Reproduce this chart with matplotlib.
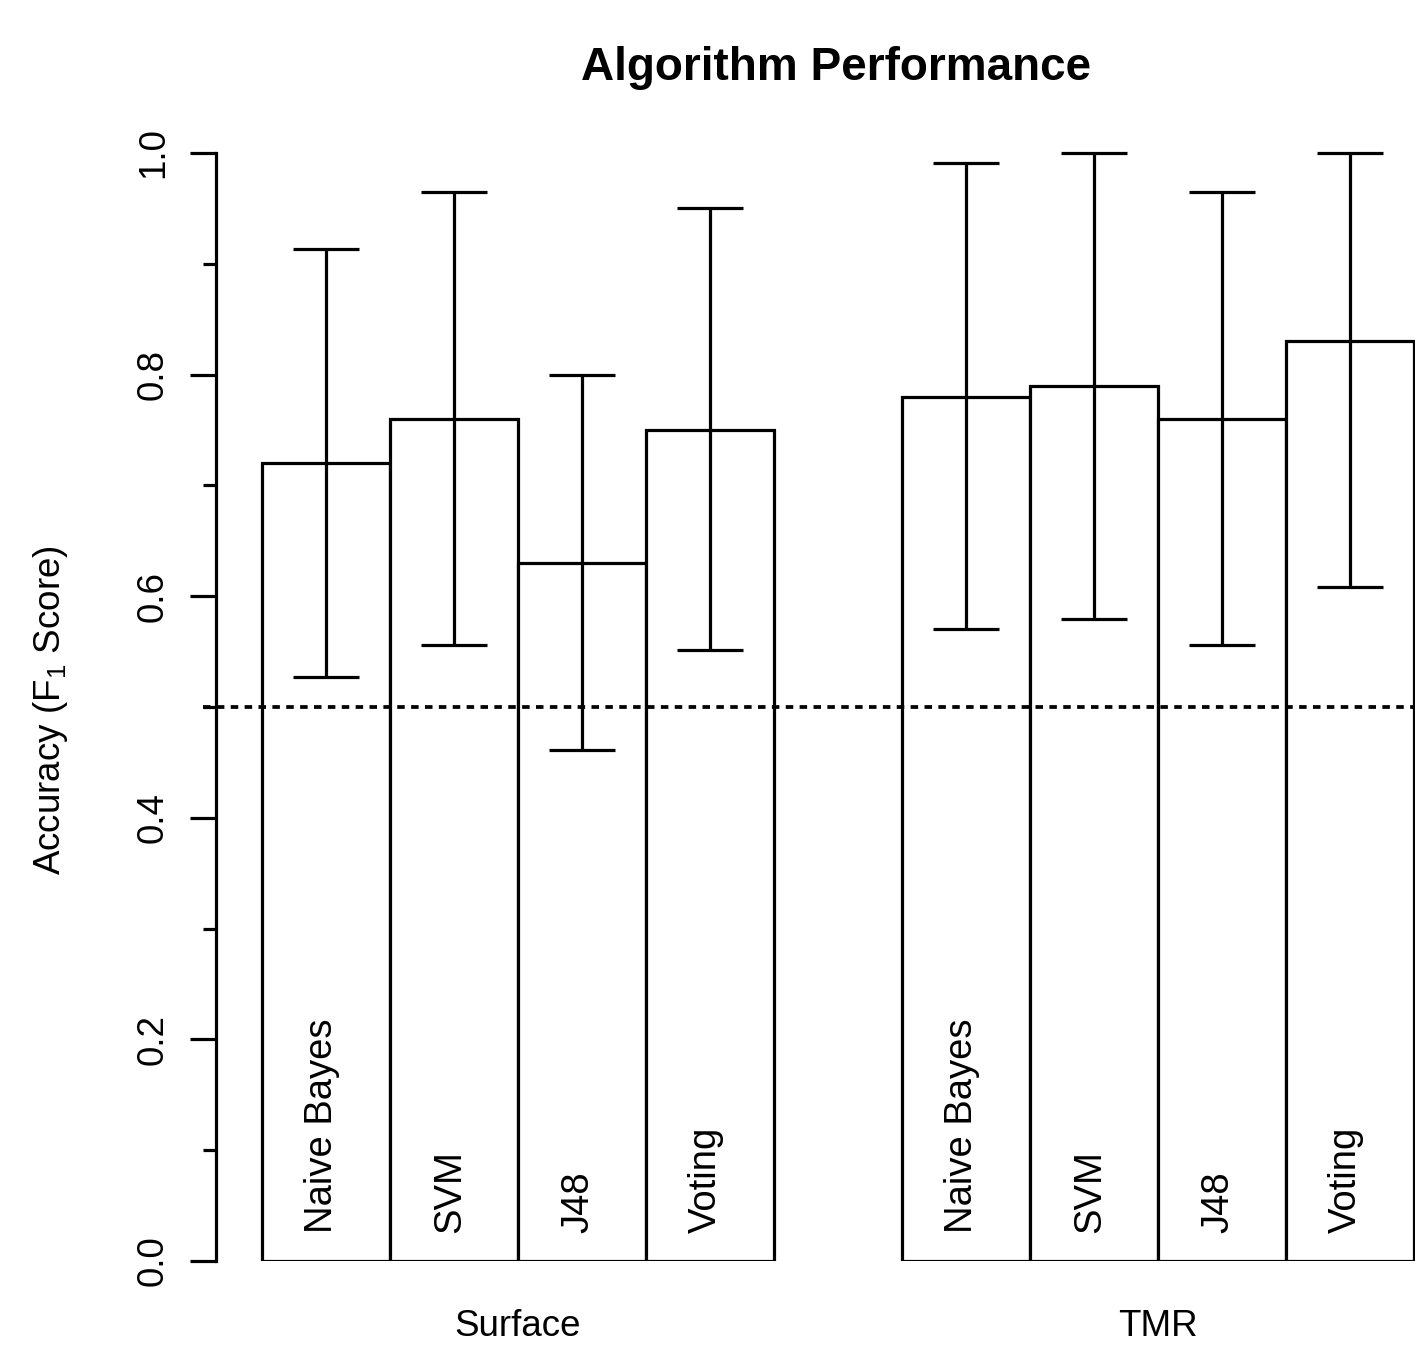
import matplotlib
matplotlib.use("Agg")
import matplotlib.pyplot as plt
import numpy as np

# data
groups = ["Surface", "TMR"]
algorithms = ["Naive Bayes", "SVM", "J48", "Voting"]
surface_f1 = [0.72, 0.76, 0.63, 0.75]
tmr_f1 = [0.78, 0.79, 0.76, 0.83]
surface_lo = [0.527, 0.556, 0.461, 0.551]
surface_hi = [0.913, 0.965, 0.800, 0.950]
tmr_lo = [0.570, 0.579, 0.556, 0.608]
tmr_hi = [0.991, 1.000, 0.965, 1.000]
chance = 0.5

plt.rcParams["font.family"] = ["Liberation Sans", "DejaVu Sans"]
plt.rcParams["mathtext.default"] = "regular"

W, H = 1415, 1345
fig = plt.figure(figsize=(W / 100, H / 100), dpi=100)
# R barplot style region: x from 0.64 to 10.36, runs past the right edge
ax = fig.add_axes([216 / W, (H - 1261) / H, (1460 - 216) / W, (1261 - 153) / H])
ax.set_xlim(0.64, 10.36)
ax.set_ylim(0, 1)

lw = 2.3
heights = np.array(surface_f1 + tmr_f1)
lo = np.array(surface_lo + tmr_lo)
hi = np.array(surface_hi + tmr_hi)
n = len(algorithms)
# bars of width 1, one empty slot before each group
left = np.concatenate([1 + g * (n + 1) + np.arange(n) for g in range(len(groups))])
centers = left + 0.5

ax.bar(left, heights, width=1.0, align="edge", color="white",
       edgecolor="black", linewidth=lw, zorder=2)

ax.axhline(chance, xmin=(203 - 216) / 1244, xmax=1, color="black", lw=2.7,
           linestyle=(0, (2.0, 1.7)), clip_on=False, zorder=3)

ax.errorbar(centers, heights, yerr=[heights - lo, hi - heights], fmt="none",
            ecolor="black", elinewidth=lw, capsize=23.8, capthick=lw,
            clip_on=False, zorder=4)

labels = algorithms * len(groups)
for x, name in zip(centers, labels):
    ax.text(x + 0.047, 0.025, name, rotation=90, rotation_mode="anchor",
            ha="left", va="baseline", fontsize=27.5, zorder=5)

for g, name in enumerate(groups):
    gc = 1 + g * (n + 1) + n / 2
    ax.text(gc, -0.0677, name, ha="center", va="baseline", fontsize=26.5,
            transform=ax.get_xaxis_transform(), clip_on=False)

# axes: only the left one, R style
for s in ["top", "right", "bottom"]:
    ax.spines[s].set_visible(False)
ax.spines["left"].set_bounds(0, 1)
ax.spines["left"].set_linewidth(lw)
ax.set_xticks([])
ax.set_yticks(np.arange(0, 1.01, 0.2))
ax.set_yticks(np.arange(0.1, 1.0, 0.2), minor=True)
ax.set_yticklabels([f"{v:.1f}" for v in np.arange(0, 1.01, 0.2)])
ax.tick_params(axis="y", which="major", length=18.7, width=lw, pad=19.4,
               labelsize=26.5)
ax.tick_params(axis="y", which="minor", length=9.4, width=lw)
for lbl in ax.get_yticklabels():
    lbl.set_rotation(90)
    lbl.set_rotation_mode("anchor")
    lbl.set_ha("center")
    lbl.set_va("baseline")

fig.text(51 / W, 1 - 710 / H, "Accuracy (F$_1$ Score)", rotation=90,
         ha="center", va="center", fontsize=26.5)
fig.text(836 / W, 1 - 80 / H, "Algorithm Performance", ha="center",
         va="baseline", fontsize=33, fontweight="bold")

fig.savefig("out.png", dpi=100)
